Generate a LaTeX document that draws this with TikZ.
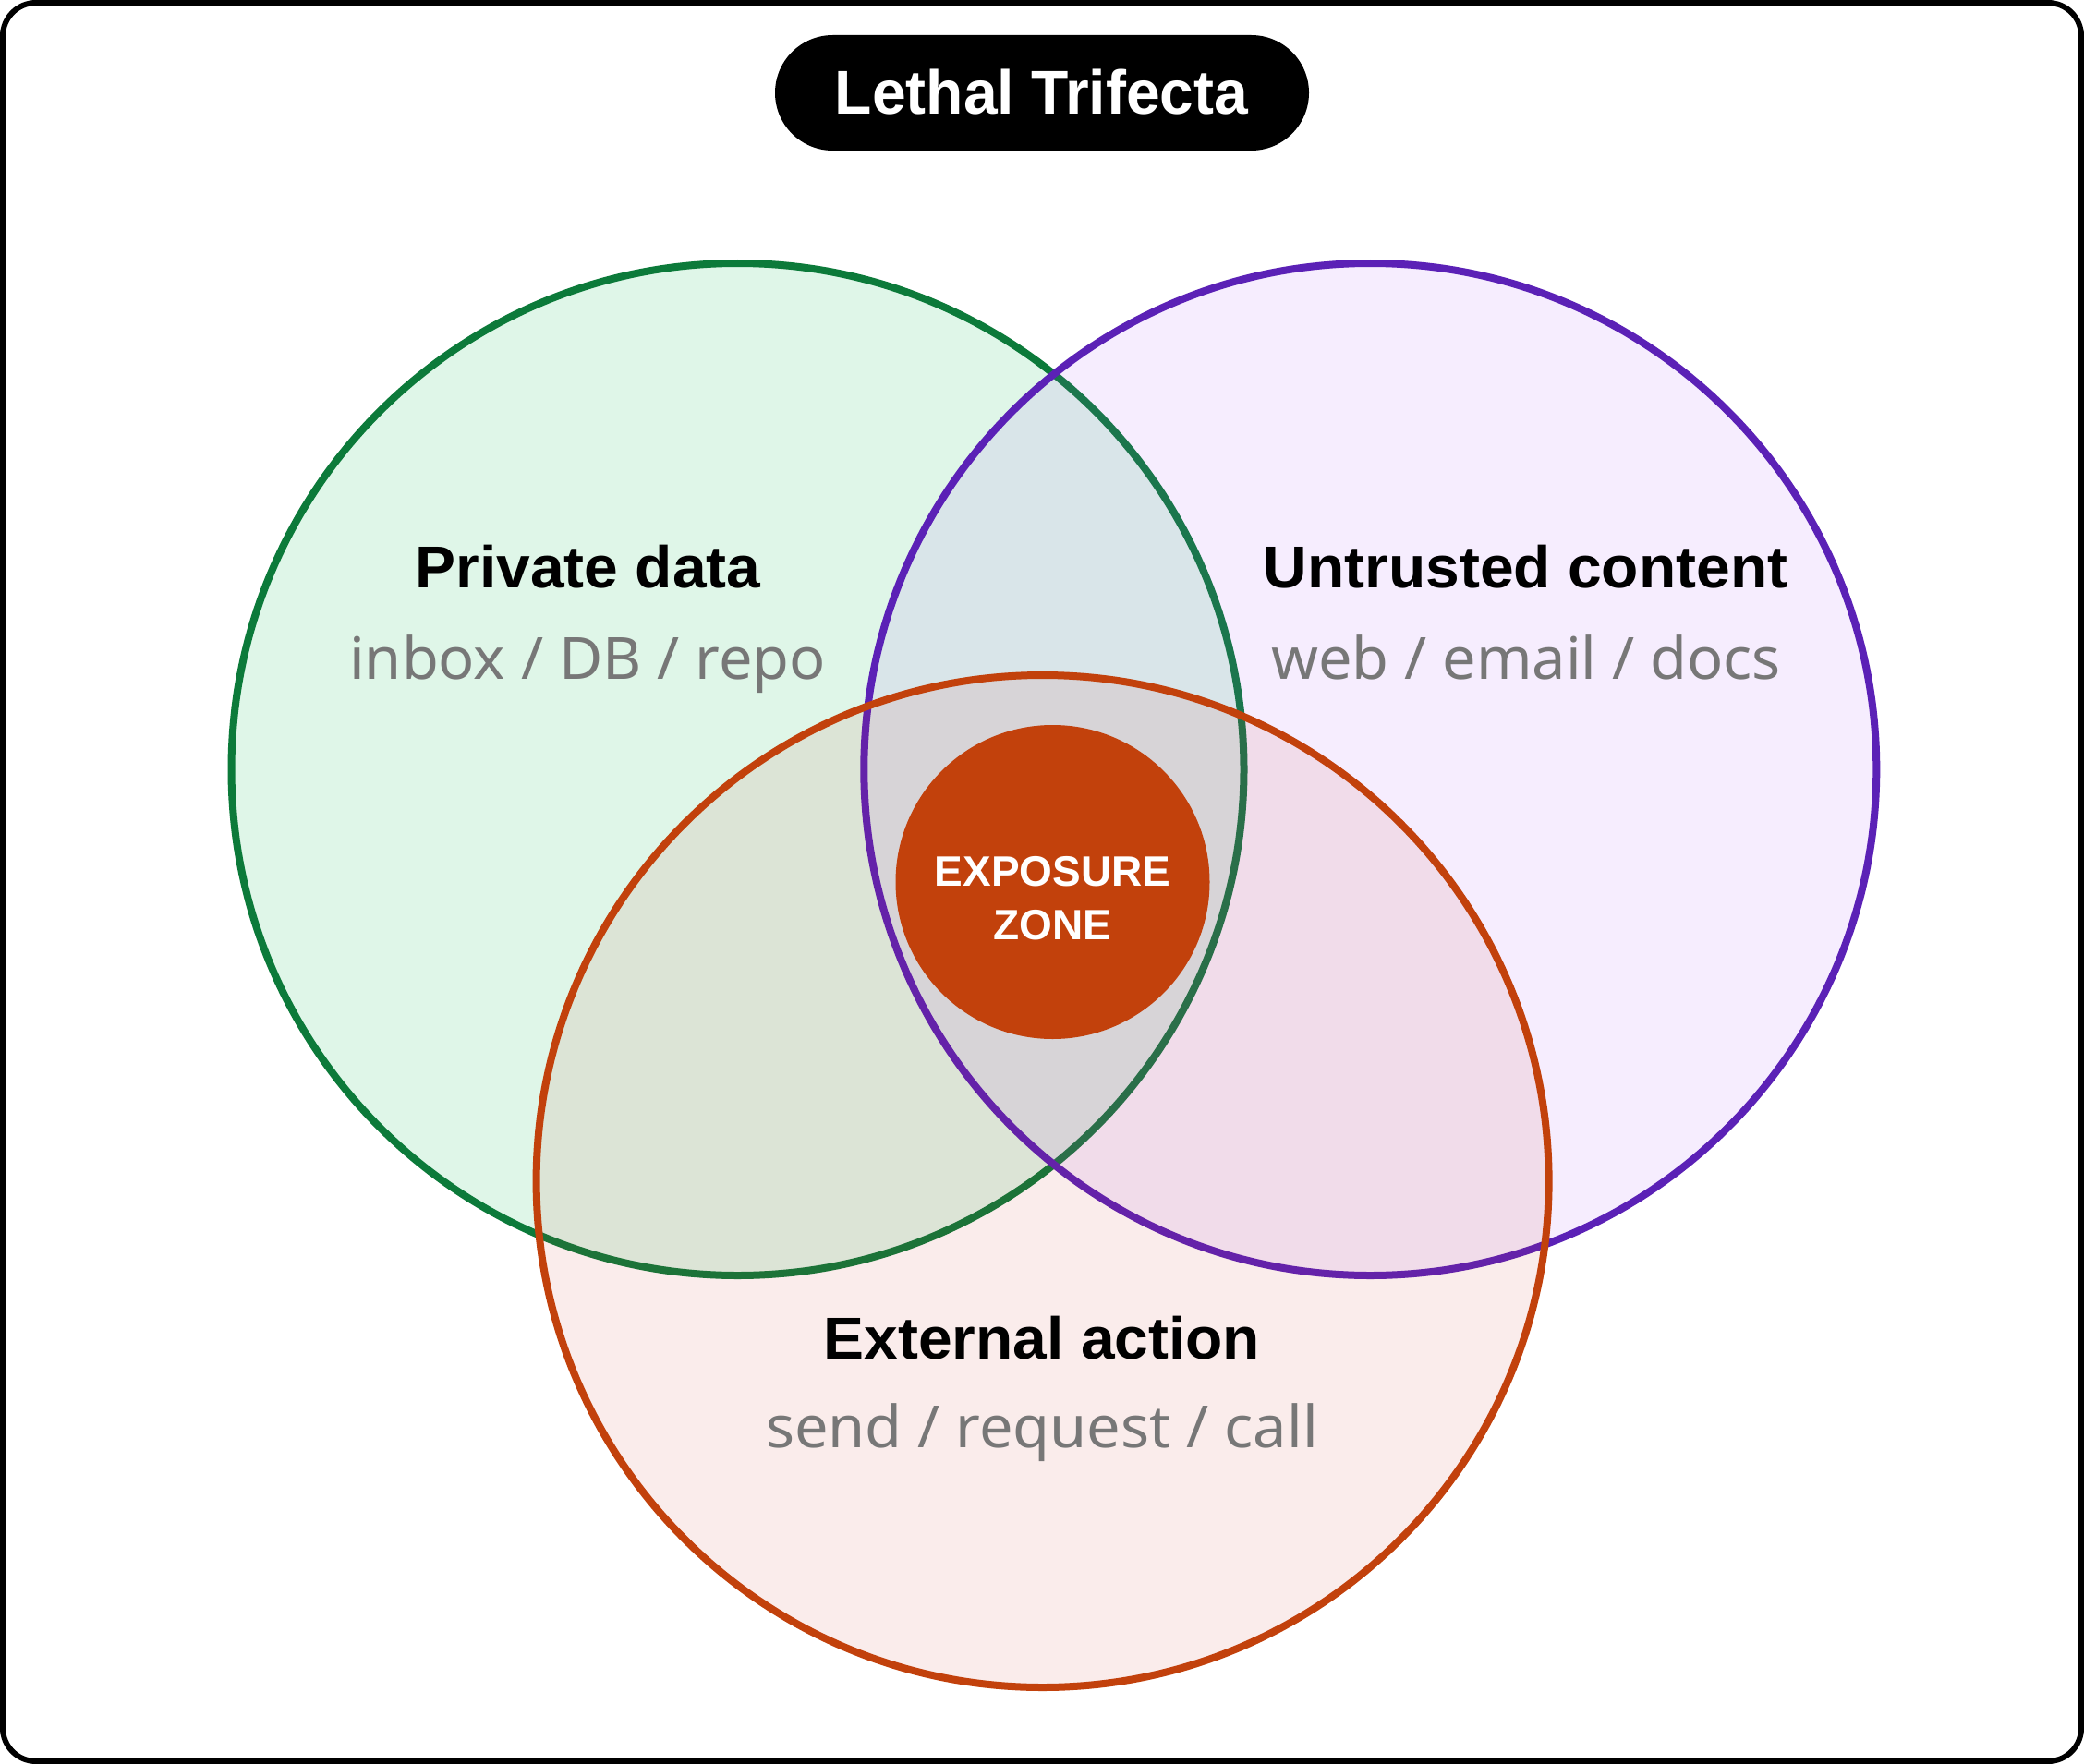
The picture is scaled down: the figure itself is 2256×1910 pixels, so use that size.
\documentclass[tikz,border=0pt]{standalone}
\usepackage{fontspec}
\setmainfont{Liberation Sans}
\newfontfamily\labfont{Liberation Sans}[FakeStretch=1.03]
\newfontfamily\subfont{Noto Sans}[FakeStretch=1.03]
\newfontfamily\capfont{Liberation Sans}
\newfontfamily\ttlfont{Liberation Sans}[FakeStretch=0.985]
\definecolor{gstroke}{RGB}{12,122,58}
\definecolor{gfill}{HTML}{22C55E}
\definecolor{pstroke}{HTML}{5B21B6}
\definecolor{pfill}{HTML}{A855F7}
\definecolor{ostroke}{HTML}{C2410C}
\definecolor{ofill}{RGB}{200,50,40}
\definecolor{subgray}{RGB}{119,119,119}
\tikzset{
  setcircle/.style={circle, inner sep=0pt, outer sep=0pt, minimum size=1096pt, line width=8pt},
  greenset/.style={setcircle, draw=gstroke, fill=gfill, fill opacity=0.14},
  purpleset/.style={setcircle, draw=pstroke, fill=pfill, fill opacity=0.10},
  orangeset/.style={setcircle, draw=ostroke, fill=ofill, fill opacity=0.09},
  heading/.style={anchor=base, inner sep=0pt, font=\labfont\bfseries\fontsize{64}{70}\selectfont, text=black},
  subline/.style={anchor=base, inner sep=0pt, font=\subfont\fontsize{63}{70}\selectfont, text=subgray},
  zonetext/.style={anchor=base, inner sep=0pt, font=\capfont\bfseries\fontsize{46}{52}\selectfont, text=white},
  titletext/.style={anchor=base, inner sep=0pt, font=\ttlfont\bfseries\fontsize{67}{72}\selectfont, text=white}
}
\begin{document}
\begin{tikzpicture}[x=1pt,y=-1pt]
\useasboundingbox (0,0) rectangle (2256,1910);
\fill[white] (0,0) rectangle (2256,1910);
% frame
\node[draw=black, line width=6pt, rounded corners=36pt, minimum width=2250pt, minimum height=1904pt, inner sep=0pt, outer sep=0pt] (frame) at (1128,955) {};
% title pill
\node[fill=black, rounded corners=62.5pt, minimum width=578pt, minimum height=125pt, inner sep=0pt] (pill) at (1128,100.5) {};
\node[titletext] (title) at (1127.5,124) {Lethal Trifecta};
% sets
\node[greenset] (green) at (798.5,833) {};
\node[purpleset] (purple) at (1483.3,833) {};
\node[orangeset] (orange) at (1128.6,1279) {};
% exposure zone
\node[circle, fill=ostroke, minimum size=340pt, inner sep=0pt] (zone) at (1139.5,955) {};
\node[zonetext] (zone1) at (1139.5,959) {EXPOSURE};
\node[zonetext] (zone2) at (1139.5,1017) {ZONE};
% labels
\node[heading] (pdh) at (636.5,636) {Private data};
\node[subline] (pds) at (636,735) {inbox / DB / repo};
\node[heading] (uch) at (1651.5,636) {Untrusted content};
\node[subline] (ucs) at (1652,735) {web / email / docs};
\node[heading] (eah) at (1128,1471) {External action};
\node[subline] (eas) at (1128,1567) {send / request / call};
\end{tikzpicture}
\end{document}
